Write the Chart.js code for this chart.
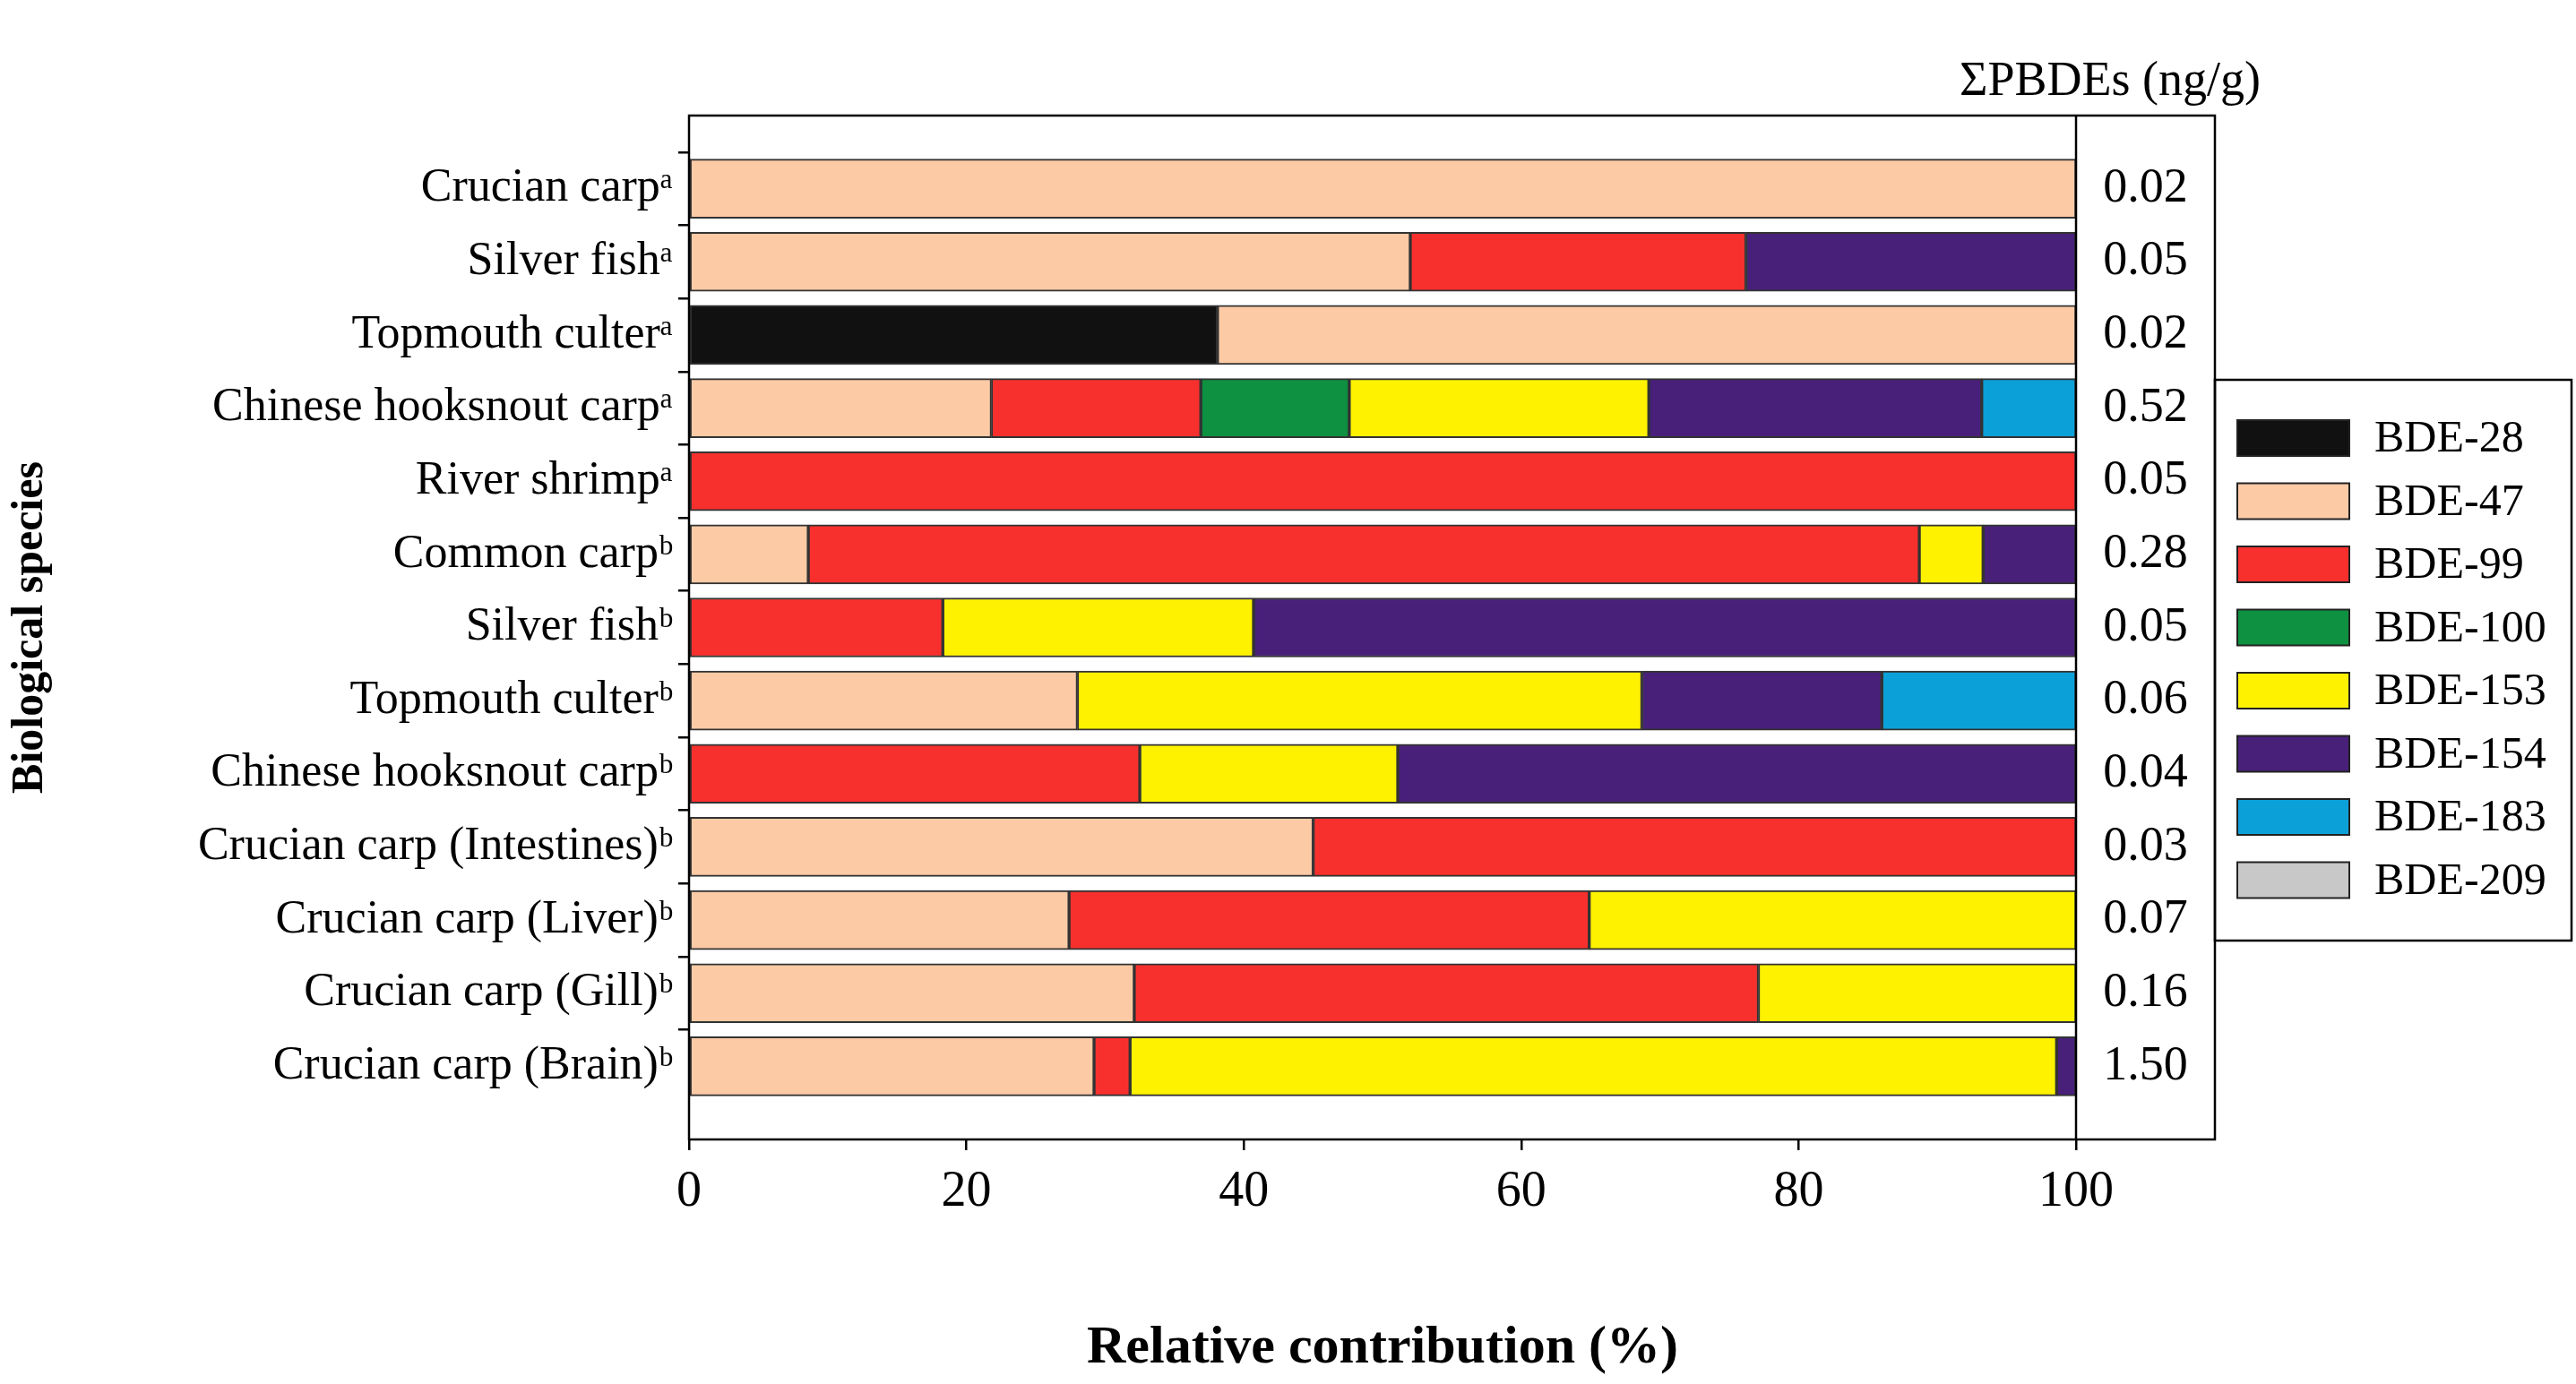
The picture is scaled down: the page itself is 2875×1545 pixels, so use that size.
<!DOCTYPE html>
<html><head><meta charset="utf-8">
<script src="https://cdn.jsdelivr.net/npm/chart.js@4/dist/chart.umd.min.js"></script>
<style>html,body{margin:0;background:#fff}#c{display:block}</style>
</head><body>
<canvas id="c" width="2875" height="1545"></canvas>
<script>
// species rows (top to bottom); blank rows pad the frame above and below
const species = ['', 'Crucian carpᵃ', 'Silver fishᵃ', 'Topmouth culterᵃ', 'Chinese hooksnout carpᵃ', 'River shrimpᵃ',
  'Common carpᵇ', 'Silver fishᵇ', 'Topmouth culterᵇ', 'Chinese hooksnout carpᵇ', 'Crucian carp (Intestines)ᵇ',
  'Crucian carp (Liver)ᵇ', 'Crucian carp (Gill)ᵇ', 'Crucian carp (Brain)ᵇ', ''];
const totals = [null, '0.02', '0.05', '0.02', '0.52', '0.05', '0.28', '0.05', '0.06', '0.04', '0.03', '0.07', '0.16', '1.50', null];

const bde28  = [null, 0, 0, 38.1, 0, 0, 0, 0, 0, 0, 0, 0, 0, 0, null];
const bde47  = [null, 100, 52.0, 61.9, 21.8, 0, 8.6, 0, 28.0, 0, 45.0, 27.4, 32.1, 29.2, null];
const bde99  = [null, 0, 24.2, 0, 15.1, 100, 80.1, 18.3, 0, 32.5, 55.0, 37.5, 45.0, 2.6, null];
const bde100 = [null, 0, 0, 0, 10.7, 0, 0, 0, 0, 0, 0, 0, 0, 0, null];
const bde153 = [null, 0, 0, 0, 21.6, 0, 4.6, 22.4, 40.7, 18.6, 0, 35.1, 22.9, 66.8, null];
const bde154 = [null, 0, 23.8, 0, 24.0, 0, 6.7, 59.3, 17.3, 48.9, 0, 0, 0, 1.4, null];
const bde183 = [null, 0, 0, 0, 6.8, 0, 0, 0, 14.0, 0, 0, 0, 0, 0, null];
const bde209 = [null, 0, 0, 0, 0, 0, 0, 0, 0, 0, 0, 0, 0, 0, null];
const xTicks = [0, 20, 40, 60, 80, 100];

const series = [
  ['BDE-28', bde28, '#111111'], ['BDE-47', bde47, '#fdcaa6'], ['BDE-99', bde99, '#f8302d'],
  ['BDE-100', bde100, '#0e9140'], ['BDE-153', bde153, '#fff200'], ['BDE-154', bde154, '#48207a'],
  ['BDE-183', bde183, '#0ca0d8'], ['BDE-209', bde209, '#c8c8c8']
];

const FONT = '"Liberation Serif", "Times New Roman", serif';
const PANEL_R = 2472;

const extras = {
  id: 'extras',
  afterDraw(chart) {
    const ctx = chart.ctx, a = chart.chartArea, y = chart.scales.y;
    ctx.save();
    ctx.strokeStyle = '#000'; ctx.lineWidth = 2.5;
    ctx.strokeRect(a.left, a.top, PANEL_R - a.left, a.bottom - a.top);
    ctx.beginPath(); ctx.moveTo(a.right, a.top); ctx.lineTo(a.right, a.bottom); ctx.stroke();
    ctx.fillStyle = '#000'; ctx.font = '54px ' + FONT; ctx.textAlign = 'center'; ctx.textBaseline = 'middle';
    totals.forEach((t, i) => { if (t) ctx.fillText(t, (a.right + PANEL_R) / 2, y.getPixelForValue(i)); });
    ctx.fillText('ΣPBDEs (ng/g)', 2355, 92);
    // legend
    const lx = 2472, ly = 424, lw = 398, lh = 626;
    ctx.strokeRect(lx, ly, lw, lh);
    ctx.textAlign = 'left'; ctx.font = '50px ' + FONT;
    series.forEach((s, i) => {
      const cy = ly + 65 + i * 70.5;
      ctx.fillStyle = s[2]; ctx.fillRect(lx + 25, cy - 20, 125, 40);
      ctx.strokeStyle = '#222'; ctx.lineWidth = 2; ctx.strokeRect(lx + 25, cy - 20, 125, 40);
      ctx.fillStyle = '#000'; ctx.fillText(s[0], lx + 178, cy + 2);
    });
    ctx.restore();
  }
};

new Chart(document.getElementById('c'), {
  type: 'bar',
  data: {
    labels: species,
    datasets: series.map(s => ({
      label: s[0], data: s[1], backgroundColor: s[2],
      borderColor: '#333', borderWidth: 2, barThickness: 66, borderSkipped: false
    }))
  },
  plugins: [extras],
  options: {
    responsive: false, animation: false, indexAxis: 'y',
    layout: { padding: { left: 0, right: 558, top: 129, bottom: 0 } },
    plugins: { legend: { display: false }, tooltip: { enabled: false } },
    scales: {
      x: {
        stacked: true, min: 0, max: 100,
        afterFit: s => { s.height = 273; },
        afterBuildTicks: s => { s.ticks = xTicks.map(v => ({ value: v })); },
        grid: { drawOnChartArea: false, tickLength: 12, color: '#000', lineWidth: 2.5 },
        border: { display: false },
        ticks: { color: '#000', font: { family: FONT, size: 56 }, padding: 14 },
        title: { display: true, text: 'Relative contribution (%)', color: '#000',
          font: { family: FONT, size: 60, weight: 'bold' }, padding: { top: 70 } }
      },
      y: {
        stacked: true, offset: false,
        afterFit: s => { s.width = 769; },
        grid: { drawOnChartArea: false, tickLength: 12, lineWidth: 2.5,
          color: c => (species[c.index] ? '#000' : 'rgba(0,0,0,0)') },
        border: { display: false },
        ticks: { color: '#000', font: { family: FONT, size: 52 }, padding: 6, autoSkip: false },
        title: { display: true, text: 'Biological species', color: '#000',
          font: { family: FONT, size: 50, weight: 'bold' }, padding: { bottom: 0 } }
      }
    }
  }
});
</script>
</body></html>
